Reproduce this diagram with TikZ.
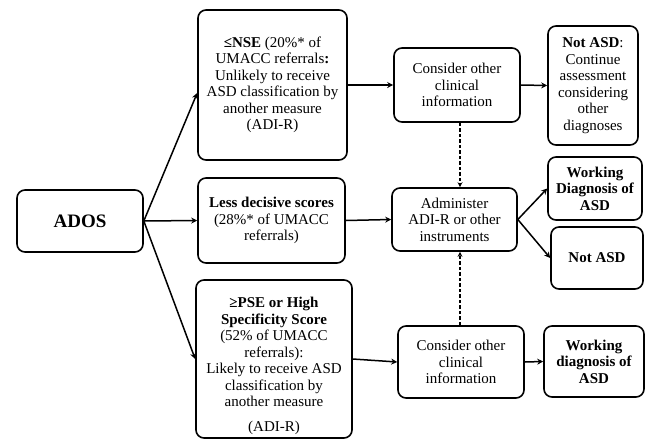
\documentclass[tikz,border=0pt]{standalone}
\usepackage{fontspec}
\setmainfont{Liberation Serif}
\usetikzlibrary{arrows.meta}
\begin{document}
\begin{tikzpicture}[x=1pt,y=-1pt,
 box/.style={draw, line width=1.6pt, rounded corners=8pt, align=center, inner sep=0pt, font=\fontsize{15}{16.5}\selectfont},
 arr/.style={line width=1.5pt, -{Stealth[length=6pt,width=6pt]}},
 darr/.style={line width=1.5pt, -{Stealth[length=5pt,width=5pt]}, dash pattern=on 3.5pt off 2pt}]
\useasboundingbox (0,0) rectangle (649,440);
\node[box, minimum width=126pt, minimum height=62pt, font=\fontsize{19}{21}\selectfont\bfseries] (ados) at (80,221) {ADOS};
\node[box, minimum width=149pt, minimum height=150pt] (nse) at (272.5,85) {\textbf{≤NSE} (20\%* of\\UMACC referrals\textbf{:}\\Unlikely to receive\\ASD classification by\\another measure\\(ADI-R)};
\node[box, minimum width=147pt, minimum height=85pt] (less) at (271.5,220.5) {\textbf{Less decisive scores}\\(28\%* of UMACC\\referrals)};
\node[box, minimum width=156pt, minimum height=158pt] (pse) at (274,359) {\rule{0pt}{24pt}\textbf{≥PSE or High}\\\textbf{Specificity Score}\\(52\% of UMACC\\referrals):\\Likely to receive ASD\\classification by\\another measure\\[8pt](ADI-R)};
\node[box, minimum width=126pt, minimum height=74pt] (c1) at (457,85) {Consider other\\clinical\\information};
\node[box, minimum width=90pt, minimum height=119pt] (na1) at (593,85.5) {\textbf{Not ASD}:\\Continue\\assessment\\considering\\other\\diagnoses};
\node[box, minimum width=125pt, minimum height=63pt] (adm) at (454.5,219.5) {Administer\\ADI-R or other\\instruments};
\node[box, minimum width=94pt, minimum height=63pt, font=\fontsize{15}{16.5}\selectfont\bfseries] (wd) at (595,188.5) {Working\\Diagnosis of\\ASD};
\node[box, minimum width=92pt, minimum height=62pt, font=\fontsize{15}{16.5}\selectfont\bfseries] (na2) at (597,258) {Not ASD};
\node[box, minimum width=126pt, minimum height=72pt] (c2) at (461,362) {Consider other\\clinical\\information};
\node[box, minimum width=100pt, minimum height=71pt, font=\fontsize{15}{16.5}\selectfont\bfseries] (wd2) at (594,361.5) {Working\\diagnosis of\\ASD};
\coordinate (dx) at (460,0);
\draw[arr] (ados.east) -- ([yshift=-8pt]nse.west);
\draw[arr] (ados.east) -- (less.west);
\draw[arr] (ados.east) -- (pse.west);
\draw[arr] (nse.east) -- (c1.west);
\draw[arr] (c1.east) -- (na1.west);
\draw[arr] (less.east) -- (adm.west);
\draw[arr] (adm.east) -- (wd.west);
\draw[arr] (adm.east) -- (na2.west);
\draw[arr] (pse.east) -- (c2.west);
\draw[arr] (c2.east) -- (wd2.west);
\draw[darr] (c1.south -| dx) -- (adm.north -| dx);
\draw[darr] (c2.north -| dx) -- (adm.south -| dx);
\end{tikzpicture}
\end{document}
